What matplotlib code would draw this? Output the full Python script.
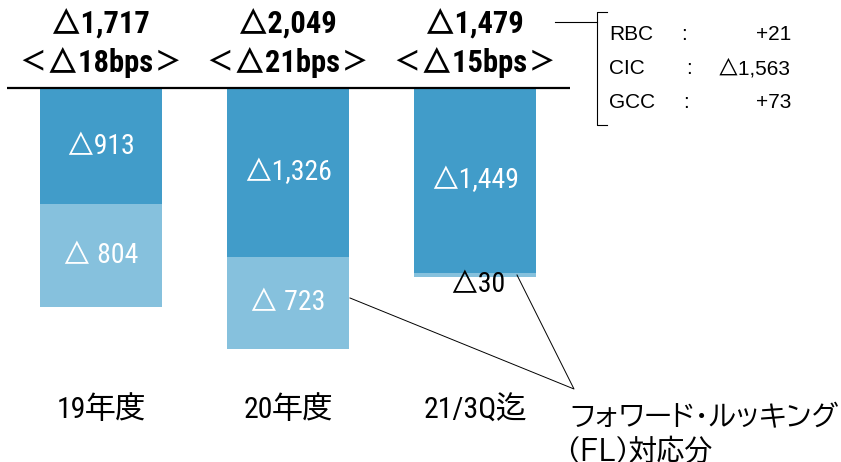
import matplotlib
matplotlib.use("Agg")
import matplotlib.pyplot as plt
import numpy as np

narrow = ['Roboto Condensed', 'BIZ UDGothic', 'Noto Sans CJK JP', 'DejaVu Sans']
plain = ['Liberation Sans', 'BIZ UDGothic', 'Noto Sans CJK JP', 'DejaVu Sans']
jp = ['BIZ UDPGothic', 'Noto Sans CJK JP', 'DejaVu Sans']
plt.rcParams['font.family'] = narrow

# data (億円, negative values shown as △)
categories = ['19年度', '20年度', '21/3Q迄']
base_cost = [913, 1326, 1449]      # dark part
fl_cost = [804, 723, 30]           # light part (FL対応分)
totals = [1717, 2049, 1479]
bps = [18, 21, 15]
breakdown_names = ['RBC', 'CIC', 'GCC']
breakdown_vals = ['+21', '△1,563', '+73']

dark = '#419CC9'
light = '#86C1DD'

W, H = 841, 462
fig = plt.figure(figsize=(W / 100, H / 100), dpi=100)
ax = fig.add_axes([0, 0, 1, 1])
ax.axis('off')

# pixel mapping: bar centre 0 at px 101, step 187 px; value 0 at px 88, 0.1275 px/unit
step, x0px, y0px, k = 187.0, 101.0, 88.0, 0.1275
ax.set_xlim(-x0px / step, (W - x0px) / step)
ax.set_ylim((H - y0px) / k, -y0px / k)

def px(xp, yp):
    return (xp - x0px) / step, (yp - y0px) / k

x = np.arange(len(categories))
width = 0.65
ax.bar(x, base_cost, width, color=dark, edgecolor='none')
ax.bar(x, fl_cost, width, bottom=base_cost, color=light, edgecolor='none')

# baseline
bx0, by = px(7, 88)
bx1, _ = px(570, 88)
ax.plot([bx0, bx1], [by, by], color='black', lw=1.6, solid_capstyle='butt')

for i in range(len(categories)):
    ax.text(x[i], base_cost[i] / 2, f'△{base_cost[i]:,}', color='white',
            ha='center', va='center', fontsize=20)
    if fl_cost[i] > 100:
        ax.text(x[i], base_cost[i] + fl_cost[i] / 2, f'△ {fl_cost[i]:,}',
                color='white', ha='center', va='center', fontsize=20)
    else:
        _, ty = px(0, 285)
        ax.text(x[i] + 0.015, ty, f'△{fl_cost[i]:,}',
                color='black', ha='center', va='center', fontsize=20)
    _, ty = px(0, 24)
    ax.text(x[i], ty, f'△{totals[i]:,}', ha='center', va='center',
            fontsize=22, fontweight='bold')
    _, ty = px(0, 63)
    ax.text(x[i], ty, f'＜△{bps[i]}bps＞', ha='center', va='center',
            fontsize=22, fontweight='bold')
    _, ty = px(0, 410)
    ax.text(x[i], ty, categories[i], ha='center', va='center', fontsize=21.5)

# bracket with breakdown
lx0, ly = px(555, 22)
lx1, _ = px(597, 22)
ax.plot([lx0, lx1], [ly, ly], color='black', lw=0.8)
bxa, bt = px(597, 12)
bxb, bb = px(607, 125)
ax.plot([bxb, bxa, bxa, bxb], [bt, bt, bb, bb], color='black', lw=0.8)
colon_x = [681, 686, 683]
for j, (n, v) in enumerate(zip(breakdown_names, breakdown_vals)):
    _, ty = px(0, 35 + j * 34)
    xn, _ = px(609, 0)
    xc, _ = px(colon_x[j], 0)
    xv, _ = px(791, 0)
    ax.text(xn, ty, n, ha='left', va='center', fontsize=15, family=plain)
    ax.text(xc, ty, ':', ha='left', va='center', fontsize=15, family=plain)
    ax.text(xv, ty, v, ha='right', va='center', fontsize=15, family=plain)

# FL callout
pa = px(574, 389)
pb = px(350, 298)
pc = px(517, 275)
ax.plot([pb[0], pa[0], pc[0]], [pb[1], pa[1], pc[1]], color='black', lw=0.7)
tx, ty = px(570, 416)
ax.text(tx, ty, 'フォワード・ルッキング', ha='left', va='center', fontsize=20,
        family=jp)
tx, ty = px(566, 449)
ax.text(tx, ty, '（FL）対応分', ha='left', va='center', fontsize=20,
        family=jp)

fig.savefig('out.png', dpi=100)
